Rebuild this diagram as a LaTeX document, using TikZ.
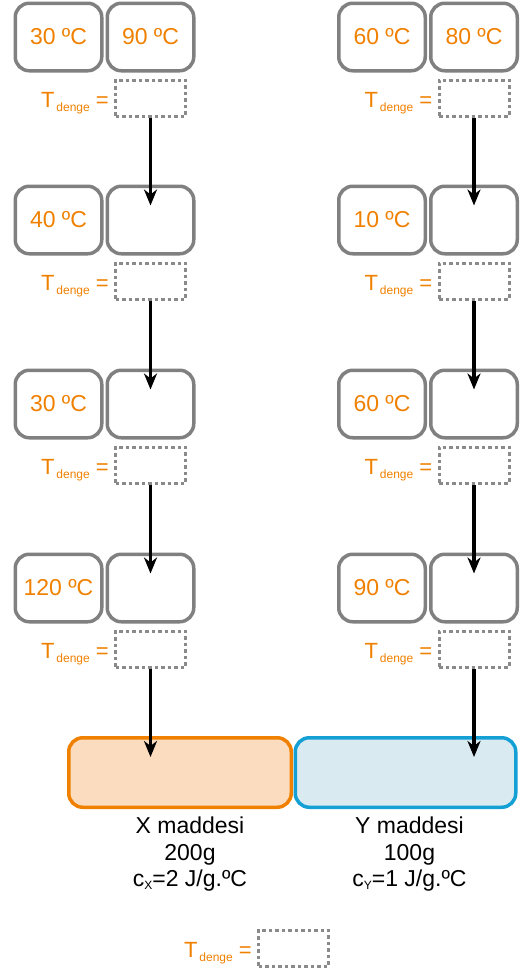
\documentclass[tikz,border=0pt]{standalone}
\usepackage{fontspec}
\setmainfont{Liberation Sans}
\usetikzlibrary{positioning,arrows.meta}
\definecolor{turuncu}{RGB}{240,128,0}
\definecolor{kgri}{RGB}{128,128,128}
\definecolor{ngri}{RGB}{138,138,138}
\definecolor{xdolgu}{RGB}{251,220,190}
\definecolor{mavi}{RGB}{20,160,212}
\definecolor{ydolgu}{RGB}{217,235,241}
\newcommand{\tdenge}{T\kern2pt\raisebox{-4pt}{\fontsize{12}{12}\selectfont denge} =}
\newcommand{\altind}[1]{\raisebox{-3pt}{\fontsize{12}{12}\selectfont #1}}
\begin{document}
\begin{tikzpicture}[x=1pt,y=-1pt,node distance=2pt,
  kap/.style={draw=kgri,line width=3.5pt,rounded corners=14pt,minimum width=86.5pt,minimum height=67.5pt,inner sep=0pt,text=turuncu,font=\fontsize{23}{27}\selectfont},
  bos/.style={draw=ngri,line width=3pt,dash pattern=on 3.5pt off 3pt,minimum width=70pt,minimum height=36pt,inner sep=0pt},
  etk/.style={text=turuncu,inner sep=0pt,anchor=base east,font=\fontsize{22}{26}\selectfont},
  madde/.style={line width=3.5pt,rounded corners=14pt,minimum height=69.5pt,inner sep=0pt},
  bilgi/.style={align=center,inner sep=0pt,font=\fontsize{23}{26.5}\selectfont},
  ok/.style={-{Stealth[length=16pt,width=13pt,inset=5pt]},line width=3.5pt}]
\useasboundingbox (0,0) rectangle (528,970);
% X sutunu
\node[kap] (xa1) at (58.5,37) {30 ºC};
\node[kap,right=of xa1] (xb1) {90 ºC};
\node[bos,below=6pt of xb1] (xd1) {};
\node[etk] (xt1) at ([xshift=-5pt,yshift=-9.5pt]xd1.west) {\tdenge};
\node[kap] (xa2) at (58.5,220) {40 ºC};
\node[kap,right=of xa2] (xb2) {};
\node[bos,below=6pt of xb2] (xd2) {};
\node[etk] (xt2) at ([xshift=-5pt,yshift=-9.5pt]xd2.west) {\tdenge};
\node[kap] (xa3) at (58.5,404) {30 ºC};
\node[kap,right=of xa3] (xb3) {};
\node[bos,below=6pt of xb3] (xd3) {};
\node[etk] (xt3) at ([xshift=-5pt,yshift=-9.5pt]xd3.west) {\tdenge};
\node[kap] (xa4) at (58.5,588) {120 ºC};
\node[kap,right=of xa4] (xb4) {};
\node[bos,below=6pt of xb4] (xd4) {};
\node[etk] (xt4) at ([xshift=-5pt,yshift=-9.5pt]xd4.west) {\tdenge};
% Y sutunu
\node[kap] (ya1) at (382,37) {60 ºC};
\node[kap,right=of ya1] (yb1) {80 ºC};
\node[bos,below=6pt of yb1] (yd1) {};
\node[etk] (yt1) at ([xshift=-5pt,yshift=-9.5pt]yd1.west) {\tdenge};
\node[kap] (ya2) at (382,220) {10 ºC};
\node[kap,right=of ya2] (yb2) {};
\node[bos,below=6pt of yb2] (yd2) {};
\node[etk] (yt2) at ([xshift=-5pt,yshift=-9.5pt]yd2.west) {\tdenge};
\node[kap] (ya3) at (382,404) {60 ºC};
\node[kap,right=of ya3] (yb3) {};
\node[bos,below=6pt of yb3] (yd3) {};
\node[etk] (yt3) at ([xshift=-5pt,yshift=-9.5pt]yd3.west) {\tdenge};
\node[kap] (ya4) at (382,588) {90 ºC};
\node[kap,right=of ya4] (yb4) {};
\node[bos,below=6pt of yb4] (yd4) {};
\node[etk] (yt4) at ([xshift=-5pt,yshift=-9.5pt]yd4.west) {\tdenge};
% maddeler
\node[madde,draw=turuncu,fill=xdolgu,minimum width=222.5pt] (xm) at (180,772.5) {};
\node[madde,draw=mavi,fill=ydolgu,minimum width=220.5pt,right=0.5pt of xm] (ym) {};
\node[bilgi,below=8pt of xm,xshift=10pt] (xbil) {X maddesi\\200g\\c\altind{X}=2 J/g.ºC};
\node[bilgi,below=8pt of ym,xshift=4pt] (ybil) {Y maddesi\\100g\\c\altind{Y}=1 J/g.ºC};
% son sicaklik
\node[bos] (son) at (293.5,948) {};
\node[etk] (sont) at ([xshift=-5pt,yshift=-9pt]son.west) {\tdenge};
% oklar
\draw[ok] (xd1.south) -- ([yshift=-21pt]xb2.north);
\draw[ok] (xd2.south) -- ([yshift=-21pt]xb3.north);
\draw[ok] (xd3.south) -- ([yshift=-21pt]xb4.north);
\draw[ok] (xd4.south) -- ([yshift=-21pt]xd4.south |- xm.north);
\draw[ok] (yd1.south) -- ([yshift=-21pt]yb2.north);
\draw[ok] (yd2.south) -- ([yshift=-21pt]yb3.north);
\draw[ok] (yd3.south) -- ([yshift=-21pt]yb4.north);
\draw[ok] (yd4.south) -- ([yshift=-21pt]yd4.south |- ym.north);
\end{tikzpicture}
\end{document}
